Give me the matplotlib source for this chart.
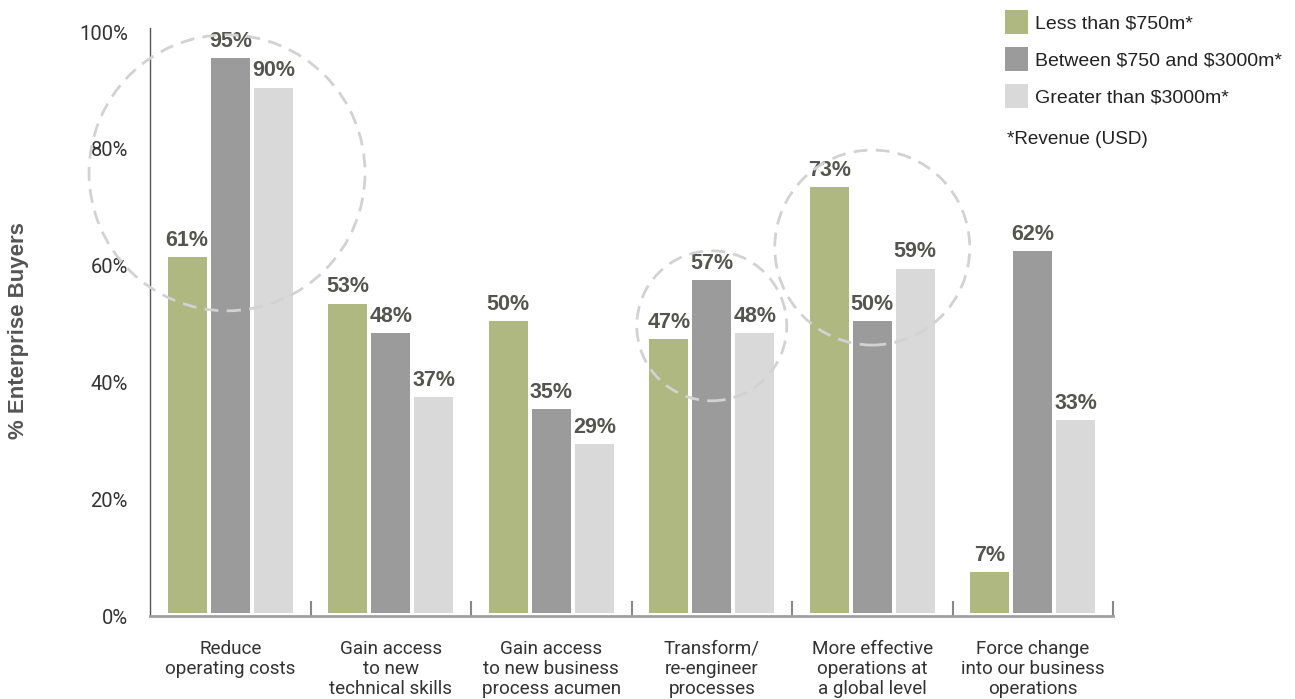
import matplotlib
matplotlib.use("Agg")
import matplotlib.pyplot as plt
import matplotlib.transforms as mtransforms
from matplotlib.patches import Circle
import numpy as np

plt.rcParams["text.parse_math"] = False

categories = [
    "Reduce\noperating costs",
    "Gain access\nto new\ntechnical skills",
    "Gain access\nto new business\nprocess acumen",
    "Transform/\nre-engineer\nprocesses",
    "More effective\noperations at\na global level",
    "Force change\ninto our business\noperations",
]
series_names = ["Less than $750m*", "Between $750 and $3000m*", "Greater than $3000m*"]
less_750 = [61, 53, 50, 47, 73, 7]
between_750_3000 = [95, 48, 35, 57, 50, 62]
greater_3000 = [90, 37, 29, 48, 59, 33]
yticks = [0, 20, 40, 60, 80, 100]
ytick_labels = ["0%", "20%", "40%", "60%", "80%", "100%"]
footnote = "*Revenue (USD)"
ylabel = "% Enterprise Buyers"

colors = ["#b0b882", "#9b9b9b", "#d9d9d9"]
narrow = ["Roboto", "DejaVu Sans"]
regular = ["Liberation Sans", "DejaVu Sans"]

W, H = 1295, 699
fig = plt.figure(figsize=(W / 100, H / 100), dpi=100)
ax = fig.add_axes([150 / W, (H - 616) / H, (1113 - 150) / W, (616 - 28) / H])

x = np.arange(len(categories))
width = 0.243
step = 0.268
all_series = [less_750, between_750_3000, greater_3000]
bars = []
for i, (vals, c, name) in enumerate(zip(all_series, colors, series_names)):
    b = ax.bar(x + (i - 1) * step, vals, width=width, color=c, label=name, zorder=2)
    bars.append(b)
    for xi, v in zip(x + (i - 1) * step, vals):
        ax.annotate(f"{v}%", (xi, v), xytext=(0, 8), textcoords="offset points",
                    ha="center", va="baseline", fontsize=15.5, fontweight="bold",
                    color="#55554f", family=regular, zorder=3)

ax.set_xlim(-0.5, 5.5)
ax.set_ylim(-0.5, 100.2)

for s in ["top", "right"]:
    ax.spines[s].set_visible(False)
ax.spines["left"].set_color("#555555")
ax.spines["left"].set_linewidth(1.0)
ax.spines["bottom"].set_color("#a0a0a0")
ax.spines["bottom"].set_linewidth(2.0)

ax.set_yticks(yticks)
ax.set_yticklabels(ytick_labels, family=narrow, fontsize=14.5, color="#333333")
ax.tick_params(axis="y", length=0, pad=16)
shift = mtransforms.ScaledTranslation(0, -3 / 100, fig.dpi_scale_trans)
for lab in ax.get_yticklabels():
    lab.set_transform(lab.get_transform() + shift)

ax.set_xticks(np.arange(0.5, 6, 1.0))
ax.set_xticklabels([])
ax.tick_params(axis="x", which="major", direction="in", length=10.5, width=1.5,
               color="#888888")
ax.set_xticks(x, minor=True)
ax.set_xticklabels(categories, minor=True, family=narrow, fontsize=13.6,
                   color="#333333", linespacing=1.17)
ax.tick_params(axis="x", which="minor", length=0, pad=17)

fig.text(19 / W, 1 - 331 / H, ylabel, rotation=90, ha="center", va="center",
         fontsize=16, fontweight="bold", color="#555555", family=regular)

# dashed highlight circles: (group position, value at centre, radius px)
circles = [(-0.02, 75.4, 138), (3.0, 49.2, 75), (4.0, 62.6, 97.5)]
for cx, cy, r in circles:
    tr = fig.dpi_scale_trans + mtransforms.ScaledTranslation(cx, cy, ax.transData)
    circ = Circle((0, 0), radius=r / 100, transform=tr, fill=False,
                  edgecolor="#d2d2d2", linewidth=2, linestyle=(0, (5, 3)), zorder=4,
                  clip_on=False)
    ax.add_patch(circ)

leg = fig.legend(handles=bars, labels=series_names, loc="upper left",
                 bbox_to_anchor=(1005 / W, 1 - 10 / H), frameon=False,
                 prop={"family": regular, "size": 14}, handlelength=1.19,
                 handleheight=1.52, handletextpad=0.35, labelspacing=0.68,
                 borderpad=0, borderaxespad=0)
for t in leg.get_texts():
    t.set_color("#222222")

fig.text(1007 / W, 1 - 139 / H, footnote, ha="left", va="center", fontsize=13.6,
         family=regular, color="#222222")

fig.savefig("out.png", dpi=100)
